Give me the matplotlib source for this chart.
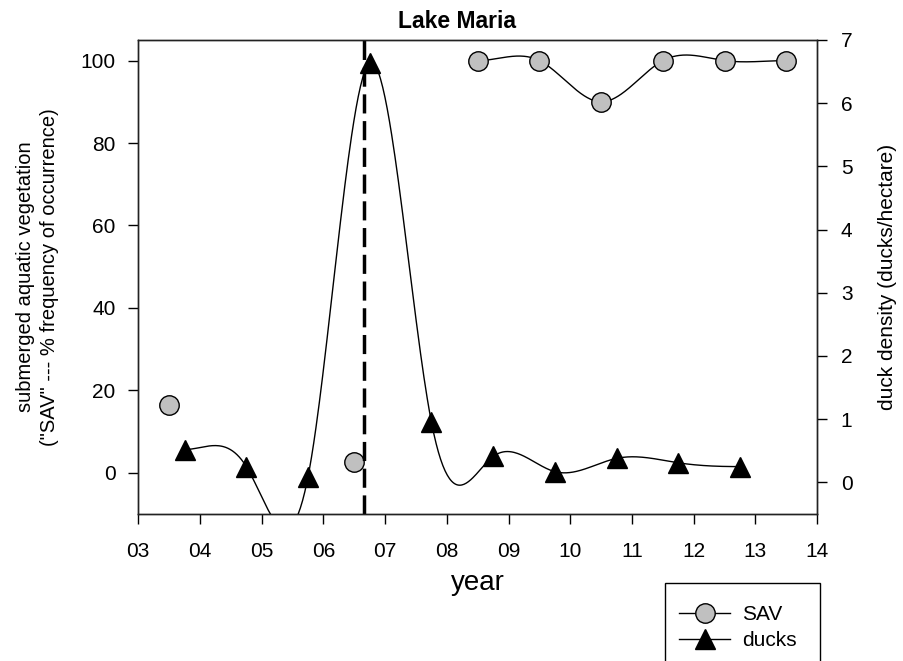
import numpy as np
import matplotlib
matplotlib.use("Agg")
import matplotlib.pyplot as plt
from matplotlib.lines import Line2D
from matplotlib.patches import Rectangle

plt.rcParams['font.family'] = ['Liberation Sans', 'DejaVu Sans']

# ---- data ----
sav_years = [3.5, 4.5, 5.5, 6.5, 7.5, 8.5, 9.5, 10.5, 11.5, 12.5, 13.5]
sav_values = [16.5, np.nan, np.nan, 2.5, np.nan, 100, 100, 90, 100, 100, 100]

duck_years = [3.75, 4.75, 5.75, 6.75, 7.75, 8.75, 9.75, 10.75, 11.75, 12.75]
duck_values = [0.52, 0.25, 0.09, 6.64, 0.95, 0.41, 0.17, 0.38, 0.31, 0.25]

event_year = 6.66
xtick_years = list(range(3, 15))
xtick_labels = ["03", "04", "05", "06", "07", "08", "09", "10", "11", "12", "13", "14"]


def clamped_spline(x, y, n=500):
    """Cubic spline with zero end slopes."""
    x = np.asarray(x, float)
    y = np.asarray(y, float)
    k = len(x)
    h = np.diff(x)
    A = np.zeros((k, k))
    b = np.zeros(k)
    A[0, 0] = 2 * h[0]
    A[0, 1] = h[0]
    b[0] = 6 * ((y[1] - y[0]) / h[0])
    A[-1, -2] = h[-1]
    A[-1, -1] = 2 * h[-1]
    b[-1] = 6 * (0 - (y[-1] - y[-2]) / h[-1])
    for i in range(1, k - 1):
        A[i, i - 1] = h[i - 1]
        A[i, i] = 2 * (h[i - 1] + h[i])
        A[i, i + 1] = h[i]
        b[i] = 6 * ((y[i + 1] - y[i]) / h[i] - (y[i] - y[i - 1]) / h[i - 1])
    M = np.linalg.solve(A, b)
    xs = np.linspace(x[0], x[-1], n)
    idx = np.clip(np.searchsorted(x, xs) - 1, 0, k - 2)
    x0, x1 = x[idx], x[idx + 1]
    hh = x1 - x0
    a = (x1 - xs) / hh
    bb = (xs - x0) / hh
    ys = (a * y[idx] + bb * y[idx + 1]
          + ((a ** 3 - a) * M[idx] + (bb ** 3 - bb) * M[idx + 1]) * hh ** 2 / 6)
    return xs, ys


def segments(x, y):
    segs, cur = [], []
    for xi, yi in zip(x, y):
        if np.isnan(yi):
            if cur:
                segs.append(cur)
            cur = []
        else:
            cur.append((xi, yi))
    if cur:
        segs.append(cur)
    return segs


fig = plt.figure(figsize=(9.04, 6.61), dpi=100)
ax = fig.add_axes([0.153, 0.2224, 0.751, 0.7171])
ax2 = ax.twinx()

# SAV curve (only contiguous runs)
for seg in segments(sav_years, sav_values):
    if len(seg) >= 2:
        sx, sy = zip(*seg)
        xs, ys = clamped_spline(sx, sy)
        ax.plot(xs, ys, color='black', lw=1.0, zorder=2)
ax.plot(sav_years, sav_values, linestyle='none', marker='o', markersize=14,
        markerfacecolor='#c0c0c0', markeredgecolor='black', markeredgewidth=1.0, zorder=3)

# ducks
xs, ys = clamped_spline(duck_years, duck_values)
ax2.plot(xs, ys, color='black', lw=1.0, zorder=2)
ax2.plot(duck_years, duck_values, linestyle='none', marker='^', markersize=15,
         color='black', zorder=3)

# event line
ax.axvline(event_year, color='black', lw=2.5, linestyle=(0, (5.5, 2.2)), zorder=4)

ax.set_xlim(3, 14)
ax.set_ylim(-10, 105)
ax2.set_ylim(-0.5, 7)
ax.set_xticks(xtick_years)
ax.set_xticklabels(xtick_labels)
ax.set_yticks([0, 20, 40, 60, 80, 100])
ax2.set_yticks(range(0, 8))

for a in (ax, ax2):
    a.tick_params(direction='out', length=7, width=1, labelsize=15, colors='black')
    for s in a.spines.values():
        s.set_linewidth(1.0)
        s.set_color('#222222')
ax.tick_params(axis='x', pad=13)
ax.tick_params(axis='y', pad=9.5)
ax2.tick_params(axis='y', pad=10)

ax.set_xlabel('year', fontsize=20, labelpad=6.5)
ax.set_ylabel('submerged aquatic vegetation\n("SAV" --- % frequency of occurrence)',
              fontsize=14.5, labelpad=15, linespacing=1.35)
ax2.set_ylabel('duck density (ducks/hectare)', fontsize=15, labelpad=18)
fig.text(457 / 904, 1 - 28 / 661, 'Lake Maria', fontsize=16.5, fontweight='bold',
         ha='center', va='baseline')

# legend: entries without frame, plus a separate frame box
handles = [
    Line2D([], [], color='black', lw=1, marker='o', markersize=14,
           markerfacecolor='#c0c0c0', markeredgecolor='black'),
    Line2D([], [], color='black', lw=1, marker='^', markersize=15),
]
leg = fig.legend(handles, ['SAV', 'ducks'], loc='upper left',
                 bbox_to_anchor=(679 / 904, 1 - 605 / 661),
                 borderaxespad=0, borderpad=0, fontsize=15, frameon=False,
                 handlelength=2.45, labelspacing=0.35, handletextpad=0.6)
frame = Rectangle((665 / 904, -0.05), 155 / 904, 0.05 + 1 - 583 / 661,
                  transform=fig.transFigure, fill=False, edgecolor='black',
                  linewidth=1.0, clip_on=False)
fig.patches.append(frame)

fig.savefig('out.png', dpi=100)
